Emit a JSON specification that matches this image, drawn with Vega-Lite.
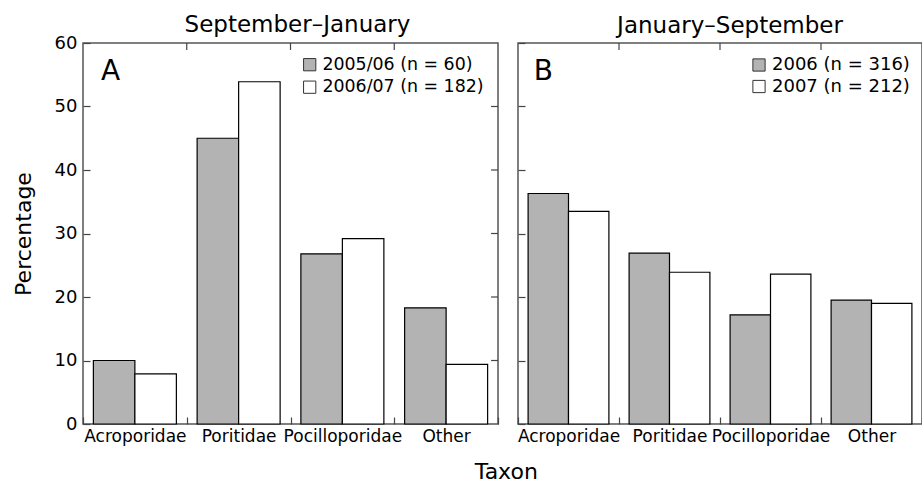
{
  "$schema": "https://vega.github.io/schema/vega-lite/v6.json",
  "padding": {"left": 11, "right": 0, "top": 13, "bottom": 0},
  "bounds": "flush",
  "spacing": 20,
  "config": {
    "font": "DejaVu Sans",
    "view": {"stroke": "#555", "strokeWidth": 1.5},
    "title": {"font": "DejaVu Sans", "fontWeight": "normal", "color": "black"},
    "axis": {
      "grid": false,
      "domain": false,
      "tickColor": "#444",
      "tickWidth": 1.2,
      "labelFont": "DejaVu Sans",
      "labelColor": "black",
      "titleFont": "DejaVu Sans",
      "titleColor": "black",
      "titleFontWeight": "normal"
    },
    "legend": {
      "labelFont": "DejaVu Sans",
      "labelFontSize": 18,
      "labelColor": "black",
      "labelLimit": 400,
      "symbolType": "square",
      "symbolSize": 150,
      "symbolStrokeColor": "#333",
      "symbolStrokeWidth": 1,
      "symbolOpacity": 1,
      "padding": 0
    }
  },
  "title": {"text": "Taxon", "orient": "bottom", "anchor": "middle", "fontSize": 22, "offset": 17, "dx": 39},
  "datasets": {
    "barsA": [
      {"taxon": "Acroporidae", "series": "2005/06 (n = 60)", "pct": 10.0},
      {"taxon": "Acroporidae", "series": "2006/07 (n = 182)", "pct": 7.9},
      {"taxon": "Poritidae", "series": "2005/06 (n = 60)", "pct": 45.0},
      {"taxon": "Poritidae", "series": "2006/07 (n = 182)", "pct": 53.9},
      {"taxon": "Pocilloporidae", "series": "2005/06 (n = 60)", "pct": 26.8},
      {"taxon": "Pocilloporidae", "series": "2006/07 (n = 182)", "pct": 29.2},
      {"taxon": "Other", "series": "2005/06 (n = 60)", "pct": 18.3},
      {"taxon": "Other", "series": "2006/07 (n = 182)", "pct": 9.4}
    ],
    "barsB": [
      {"taxon": "Acroporidae", "series": "2006 (n = 316)", "pct": 36.3},
      {"taxon": "Acroporidae", "series": "2007 (n = 212)", "pct": 33.5},
      {"taxon": "Poritidae", "series": "2006 (n = 316)", "pct": 26.9},
      {"taxon": "Poritidae", "series": "2007 (n = 212)", "pct": 23.9},
      {"taxon": "Pocilloporidae", "series": "2006 (n = 316)", "pct": 17.2},
      {"taxon": "Pocilloporidae", "series": "2007 (n = 212)", "pct": 23.6},
      {"taxon": "Other", "series": "2006 (n = 316)", "pct": 19.5},
      {"taxon": "Other", "series": "2007 (n = 212)", "pct": 19.0}
    ],
    "labelA": [{"label": "A", "taxon": "Acroporidae", "pct": 54.2}],
    "labelB": [{"label": "B", "taxon": "Acroporidae", "pct": 54.2}],
    "topTicks": [{"taxon": "Poritidae"}, {"taxon": "Pocilloporidae"}, {"taxon": "Other"}],
    "rightTicks": [{"taxon": "Other", "pct": 10}, {"taxon": "Other", "pct": 20}, {"taxon": "Other", "pct": 30}, {"taxon": "Other", "pct": 40}, {"taxon": "Other", "pct": 50}]
  },
  "hconcat": [
    {
      "width": 415,
      "height": 381,
      "title": {"text": "September–January", "fontSize": 23, "anchor": "middle", "dx": 7, "offset": -3},
      "layer": [
        {
          "data": {"name": "barsA"},
          "mark": {"type": "bar", "stroke": "black", "strokeWidth": 1.2},
          "encoding": {
            "x": {"field": "taxon", "type": "nominal", "sort": ["Acroporidae", "Poritidae", "Pocilloporidae", "Other"],
                  "scale": {"paddingInner": 0, "paddingOuter": 0},
                  "axis": {"orient": "bottom", "title": null, "labelAngle": 0, "labelFontSize": 17, "tickBand": "extent", "tickSize": -7, "labelPadding": 11}},
            "xOffset": {"field": "series", "type": "nominal", "sort": ["2005/06 (n = 60)", "2006/07 (n = 182)"],
                        "scale": {"paddingInner": 0, "paddingOuter": 0.25}},
            "y": {"field": "pct", "type": "quantitative", "scale": {"domain": [0, 60], "nice": false},
                  "axis": {"orient": "left", "values": [0, 10, 20, 30, 40, 50, 60], "tickSize": -7, "labelFontSize": 18, "labelPadding": 13,
                           "title": "Percentage", "titleFontSize": 22, "titlePadding": 19}},
            "color": {"field": "series", "type": "nominal",
                      "scale": {"domain": ["2005/06 (n = 60)", "2006/07 (n = 182)"], "range": ["#b3b3b3", "#ffffff"]},
                      "legend": {"title": null, "orient": "none", "legendX": 218, "legendY": 13, "labelOffset": 4, "rowPadding": 3.5, "labelFontSize": 17.4}}
          }
        },
        {
          "data": {"name": "topTicks"},
          "mark": {"type": "rule", "color": "#444", "strokeWidth": 1.2},
          "encoding": {
            "x": {"field": "taxon", "type": "nominal", "sort": ["Acroporidae", "Poritidae", "Pocilloporidae", "Other"], "bandPosition": 0},
            "y": {"datum": 60, "type": "quantitative"},
            "y2": {"datum": 58.9}
          }
        },
        {
          "data": {"name": "rightTicks"},
          "mark": {"type": "rule", "color": "#444", "strokeWidth": 1.2},
          "encoding": {
            "x": {"field": "taxon", "type": "nominal", "sort": ["Acroporidae", "Poritidae", "Pocilloporidae", "Other"], "bandPosition": 1},
            "x2": {"field": "taxon", "bandPosition": 0.933},
            "y": {"field": "pct", "type": "quantitative"}
          }
        },
        {
          "data": {"name": "labelA"},
          "mark": {"type": "text", "fontSize": 28, "align": "center", "baseline": "alphabetic", "color": "black"},
          "encoding": {
            "x": {"field": "taxon", "type": "nominal", "sort": ["Acroporidae", "Poritidae", "Pocilloporidae", "Other"], "bandPosition": 0.265},
            "y": {"field": "pct", "type": "quantitative", "scale": {"domain": [0, 60], "nice": false}},
            "text": {"field": "label"}
          }
        }
      ]
    },
    {
      "width": 404,
      "height": 381,
      "title": {"text": "January–September", "fontSize": 23, "anchor": "middle", "dx": 10, "offset": 4},
      "layer": [
        {
          "data": {"name": "barsB"},
          "mark": {"type": "bar", "stroke": "black", "strokeWidth": 1.2},
          "encoding": {
            "x": {"field": "taxon", "type": "nominal", "sort": ["Acroporidae", "Poritidae", "Pocilloporidae", "Other"],
                  "scale": {"paddingInner": 0, "paddingOuter": 0},
                  "axis": {"orient": "bottom", "title": null, "labelAngle": 0, "labelFontSize": 17, "tickBand": "extent", "tickSize": -7, "labelPadding": 11}},
            "xOffset": {"field": "series", "type": "nominal", "sort": ["2006 (n = 316)", "2007 (n = 212)"],
                        "scale": {"paddingInner": 0, "paddingOuter": 0.25}},
            "y": {"field": "pct", "type": "quantitative", "scale": {"domain": [0, 60], "nice": false},
                  "axis": {"orient": "left", "values": [0, 10, 20, 30, 40, 50, 60], "tickSize": -7, "labels": false, "title": null}},
            "color": {"field": "series", "type": "nominal",
                      "scale": {"domain": ["2006 (n = 316)", "2007 (n = 212)"], "range": ["#b3b3b3", "#ffffff"]},
                      "legend": {"title": null, "orient": "none", "legendX": 232, "legendY": 13, "labelOffset": 4, "rowPadding": 3.5}}
          }
        },
        {
          "data": {"name": "topTicks"},
          "mark": {"type": "rule", "color": "#444", "strokeWidth": 1.2},
          "encoding": {
            "x": {"field": "taxon", "type": "nominal", "sort": ["Acroporidae", "Poritidae", "Pocilloporidae", "Other"], "bandPosition": 0},
            "y": {"datum": 60, "type": "quantitative"},
            "y2": {"datum": 58.9}
          }
        },
        {
          "data": {"name": "labelB"},
          "mark": {"type": "text", "fontSize": 28, "align": "center", "baseline": "alphabetic", "color": "black"},
          "encoding": {
            "x": {"field": "taxon", "type": "nominal", "sort": ["Acroporidae", "Poritidae", "Pocilloporidae", "Other"], "bandPosition": 0.25},
            "y": {"field": "pct", "type": "quantitative", "scale": {"domain": [0, 60], "nice": false}},
            "text": {"field": "label"}
          }
        }
      ]
    }
  ],
  "resolve": {"scale": {"color": "independent", "x": "independent", "xOffset": "independent", "y": "independent"}}
}
